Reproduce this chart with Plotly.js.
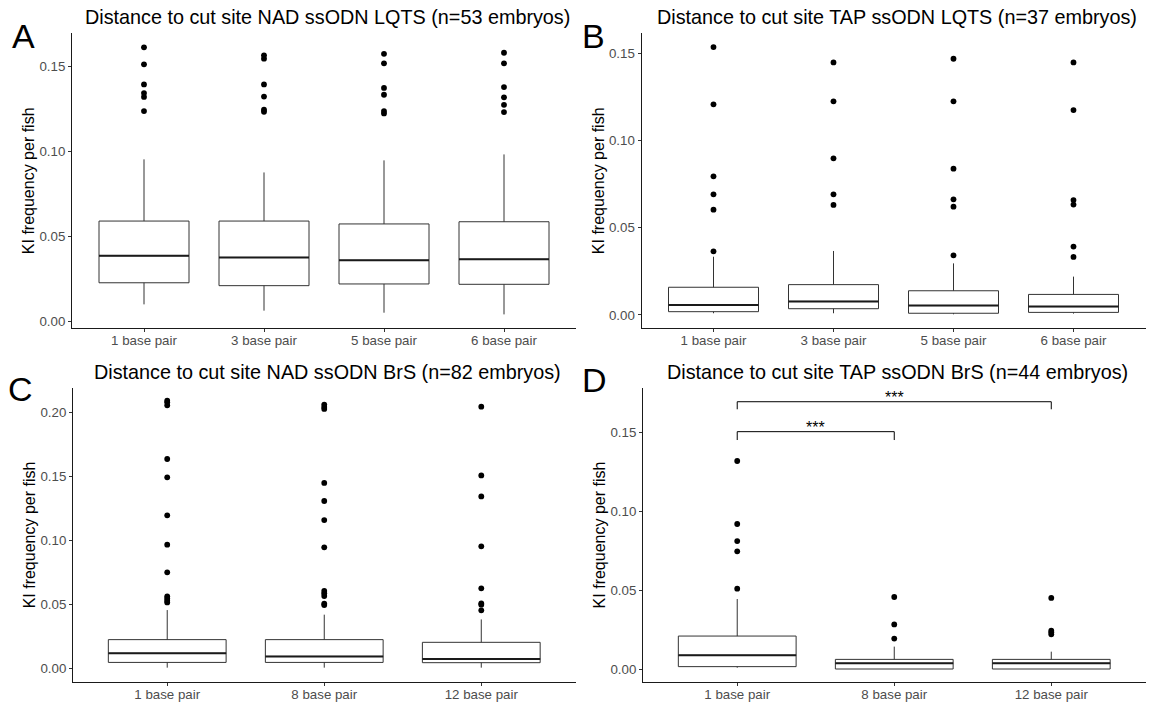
<!DOCTYPE html>
<html><head><meta charset="utf-8">
<script src="https://cdn.plot.ly/plotly-3.0.1.min.js"></script>
<style>html,body{margin:0;padding:0;background:#fff}#chart{width:1153px;height:703px}</style>
</head><body><div id="chart"></div>
<script>
// ---------- Data ----------
const catsA = ['1 base pair','3 base pair','5 base pair','6 base pair'];
const q1A   = [0.0229, 0.0212, 0.0222, 0.0220];
const medA  = [0.0388, 0.0378, 0.0361, 0.0367];
const q3A   = [0.0592, 0.0592, 0.0575, 0.0588];
const loA   = [0.0102, 0.0065, 0.0053, 0.0043];
const hiA   = [0.0955, 0.0878, 0.0949, 0.0984];
const outA  = [
  [0.1614, 0.1514, 0.1396, 0.1345, 0.1322, 0.1239],
  [0.1567, 0.1547, 0.1396, 0.1324, 0.1247, 0.1235],
  [0.1576, 0.1520, 0.1375, 0.1335, 0.1239, 0.1225],
  [0.1582, 0.1520, 0.1380, 0.1320, 0.1276, 0.1233]
];

const catsB = ['1 base pair','3 base pair','5 base pair','6 base pair'];
const q1B   = [0.0019, 0.0036, 0.0010, 0.0015];
const medB  = [0.0057, 0.0078, 0.0054, 0.0048];
const q3B   = [0.0159, 0.0174, 0.0139, 0.0118];
const loB   = [0.0010, 0.0010, 0.0004, 0.0008];
const hiB   = [0.0334, 0.0367, 0.0296, 0.0220];
const outB  = [
  [0.1536, 0.1208, 0.0795, 0.0692, 0.0604, 0.0365],
  [0.1448, 0.1225, 0.0898, 0.0692, 0.0631],
  [0.1469, 0.1225, 0.0839, 0.0663, 0.0621, 0.0342],
  [0.1448, 0.1175, 0.0659, 0.0633, 0.0392, 0.0333]
];

const catsC = ['1 base pair','8 base pair','12 base pair'];
const q1C   = [0.0049, 0.0049, 0.0047];
const medC  = [0.0120, 0.0096, 0.0076];
const q3C   = [0.0227, 0.0227, 0.0206];
const loC   = [0.0008, 0.0008, 0.0008];
const hiC   = [0.0458, 0.0422, 0.0385];
const outC  = [
  [0.2094, 0.2081, 0.2057, 0.1638, 0.1495, 0.1198, 0.0969, 0.0753, 0.0565, 0.0549, 0.0531, 0.0518],
  [0.2063, 0.2044, 0.2029, 0.1451, 0.1310, 0.1161, 0.0948, 0.0607, 0.0589, 0.0568, 0.0508, 0.0497],
  [0.2047, 0.1510, 0.1346, 0.0956, 0.0628, 0.0510, 0.0500, 0.0456]
];

const catsD = ['1 base pair','8 base pair','12 base pair'];
const q1D   = [0.0015, 0.0000, 0.0000];
const medD  = [0.0087, 0.0036, 0.0036];
const q3D   = [0.0209, 0.0061, 0.0061];
const loD   = [0.0008, 0.0000, 0.0000];
const hiD   = [0.0444, 0.0142, 0.0110];
const outD  = [
  [0.1320, 0.0920, 0.0812, 0.0747, 0.0510],
  [0.0457, 0.0283, 0.0193],
  [0.0451, 0.0243, 0.0233, 0.0220]
];

// significance brackets in panel D
const sigFrom  = [0, 0];
const sigTo    = [1, 2];
const sigLevel = [0.1506, 0.1696];
const sigTip   = [0.1453, 0.1648];
const sigText  = ['***', '***'];

const titles = [
  'Distance to cut site NAD ssODN LQTS (n=53 embryos)',
  'Distance to cut site TAP ssODN LQTS (n=37 embryos)',
  'Distance to cut site NAD ssODN BrS (n=82 embryos)',
  'Distance to cut site TAP ssODN BrS (n=44 embryos)'
];
const letters = ['A', 'B', 'C', 'D'];
const yTitle = 'KI frequency per fish';

// ---------- Layout geometry (pixels) ----------
const W = 1153, H = 703;
const FONT = 'Liberation Sans, Arial, sans-serif';
const panels = [
  {cats: catsA, q1: q1A, med: medA, q3: q3A, lo: loA, hi: hiA, out: outA,
   px: [72, 576], py: [33.3, 328.3], yr: [-0.00388, 0.16965], letter: [23, 35.5]},
  {cats: catsB, q1: q1B, med: medB, q3: q3B, lo: loB, hi: hiB, out: outB,
   px: [641.5, 1145.5], py: [33.3, 328.3], yr: [-0.00763, 0.1615], letter: [593, 35.5]},
  {cats: catsC, q1: q1C, med: medC, q3: q3C, lo: loC, hi: hiC, out: outC,
   px: [73, 575.5], py: [387.7, 682.3], yr: [-0.01063, 0.2195], letter: [20.5, 388.5]},
  {cats: catsD, q1: q1D, med: medD, q3: q3D, lo: loD, hi: hiD, out: outD,
   px: [643, 1145.5], py: [387.7, 682.3], yr: [-0.00844, 0.1785], letter: [594, 380]}
];

const BOXW = 0.75;
const traces = [];
const layout = {
  width: W, height: H,
  margin: {l: 0, r: 0, t: 0, b: 0},
  paper_bgcolor: '#fff', plot_bgcolor: '#fff',
  showlegend: false,
  font: {family: FONT, color: '#000'},
  annotations: [], shapes: []
};

panels.forEach((p, k) => {
  const s = k === 0 ? '' : String(k + 1);
  const xa = 'x' + s, ya = 'y' + s;
  const idx = p.cats.map((_, i) => i);

  traces.push({
    type: 'box', x: idx, q1: p.q1, median: p.med, q3: p.q3,
    lowerfence: p.lo, upperfence: p.hi,
    width: BOXW, whiskerwidth: 0, boxpoints: false,
    fillcolor: '#ffffff', line: {color: '#333333', width: 1},
    xaxis: xa, yaxis: ya, hoverinfo: 'skip'
  });

  // thicker median line (ggplot fatten)
  const mx = [], my = [];
  idx.forEach(i => { mx.push(i - BOXW / 2, i + BOXW / 2, null); my.push(p.med[i], p.med[i], null); });
  traces.push({type: 'scatter', mode: 'lines', x: mx, y: my,
    line: {color: '#1a1a1a', width: 2}, xaxis: xa, yaxis: ya, hoverinfo: 'skip'});

  // outliers
  const ox = [], oy = [];
  p.out.forEach((arr, i) => arr.forEach(v => { ox.push(i); oy.push(v); }));
  traces.push({type: 'scatter', mode: 'markers', x: ox, y: oy,
    marker: {color: '#000', size: 5.8}, xaxis: xa, yaxis: ya, hoverinfo: 'skip'});

  layout['xaxis' + s] = {
    domain: [p.px[0] / W, p.px[1] / W], anchor: ya,
    range: [-0.6, p.cats.length - 0.4],
    tickmode: 'array', tickvals: idx, ticktext: p.cats,
    showline: true, linecolor: '#1a1a1a', linewidth: 1,
    ticks: 'outside', ticklen: 3, tickwidth: 1, tickcolor: '#333333',
    ticklabelstandoff: -3,
    tickfont: {size: 13.3, color: '#4d4d4d', family: FONT},
    showgrid: false, zeroline: false, fixedrange: true
  };
  layout['yaxis' + s] = {
    domain: [1 - p.py[1] / H, 1 - p.py[0] / H], anchor: xa,
    range: p.yr, dtick: 0.05, tick0: 0, tickformat: '.2f',
    showline: true, linecolor: '#1a1a1a', linewidth: 1,
    ticks: 'outside', ticklen: 3, tickwidth: 1, tickcolor: '#333333',
    tickfont: {size: 13.3, color: '#4d4d4d', family: FONT},
    showgrid: false, zeroline: false, fixedrange: true,
    title: {text: yTitle, font: {size: 16, color: '#000', family: FONT}, standoff: 0}
  };

  layout.annotations.push({
    xref: 'paper', yref: 'paper',
    x: ((p.px[0] + p.px[1]) / 2 + 3) / W, y: 1 - (p.py[0] - 16) / H,
    xanchor: 'center', yanchor: 'middle', showarrow: false,
    text: titles[k], font: {size: 19.8, color: '#000', family: FONT}
  });
  layout.annotations.push({
    xref: 'paper', yref: 'paper',
    x: p.letter[0] / W, y: 1 - p.letter[1] / H,
    xanchor: 'center', yanchor: 'middle', showarrow: false,
    text: letters[k], font: {size: 34, color: '#000', family: FONT}
  });
});

// significance brackets (panel D)
sigFrom.forEach((a, j) => {
  const b = sigTo[j];
  traces.push({type: 'scatter', mode: 'lines',
    x: [a, a, b, b], y: [sigTip[j], sigLevel[j], sigLevel[j], sigTip[j]],
    line: {color: '#000', width: 1}, xaxis: 'x4', yaxis: 'y4', hoverinfo: 'skip'});
  layout.annotations.push({
    xref: 'x4', yref: 'y4', x: (a + b) / 2, y: sigLevel[j],
    xanchor: 'center', yanchor: 'bottom', yshift: -6, showarrow: false,
    text: sigText[j], font: {size: 16, color: '#000', family: FONT}
  });
});

Plotly.newPlot('chart', traces, layout, {displayModeBar: false, staticPlot: true});
</script>
</body></html>
